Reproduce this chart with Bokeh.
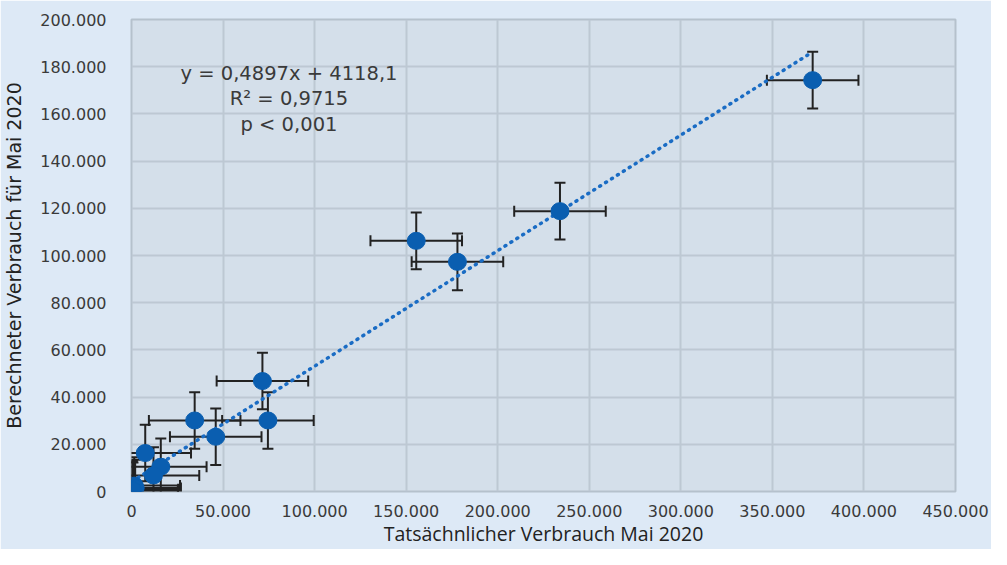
from bokeh.plotting import figure
from bokeh.models import ColumnDataSource, Whisker, TeeHead, Label, CustomJSTickFormatter, FixedTicker, Range1d
from bokeh.embed import file_html
from bokeh.resources import INLINE

# --- data ---
actual = [372000, 234000, 155500, 178000, 71500, 74500, 34500, 46000, 7500, 16000, 12000, 1500, 500, 800, 2000, 300]
calculated = [174300, 118800, 106200, 97300, 46800, 30100, 30100, 23200, 16300, 10500, 6800, 2500, 1000, 300, 1500, 500]
x_error = [25000] * len(actual)
y_error = [12000] * len(actual)
slope = 0.4897
intercept = 4118.1
x_ticks = [0, 50000, 100000, 150000, 200000, 250000, 300000, 350000, 400000, 450000]
y_ticks = [0, 20000, 40000, 60000, 80000, 100000, 120000, 140000, 160000, 180000, 200000]
equation_lines = ["y = 0,4897x + 4118,1", "R\u00b2 = 0,9715", "p < 0,001"]
x_title = "Tats\u00e4chnlicher Verbrauch Mai 2020"
y_title = "Berechneter Verbrauch f\u00fcr Mai 2020"

OUTER = "#dde9f6"
PLOT_BG = "#d4dfea"
GRID = "#bdc8d3"
TEXT = "#3a3a3a"
MARKER = "#0a5eb0"
TREND = "#1a6cc4"
FONT = "DejaVu Sans"

p = figure(width=991, height=549, output_backend="svg", toolbar_location=None,
           x_range=Range1d(0, 450000), y_range=Range1d(0, 200000),
           min_border_left=128, min_border_right=36, min_border_top=19, min_border_bottom=50)
p.background_fill_color = PLOT_BG
p.border_fill_color = OUTER
p.outline_line_color = "#b5c1cc"
p.outline_line_width = 2

fmt = CustomJSTickFormatter(code="if (tick == 0) { return '0'; } return (tick/1000).toFixed(0) + '.000';")
for ax, ticks in ((p.xaxis, x_ticks), (p.yaxis, y_ticks)):
    ax.ticker = FixedTicker(ticks=ticks)
    ax.formatter = fmt
    ax.axis_line_color = None
    ax.major_tick_line_color = None
    ax.minor_tick_line_color = None
    ax.major_label_text_font = FONT
    ax.major_label_text_font_size = "16px"
    ax.major_label_text_color = TEXT
    ax.axis_label_text_font_style = "normal"
    ax.axis_label_text_color = "#222222"
p.yaxis.major_label_standoff = 19
p.xaxis.major_label_standoff = 7
p.xaxis.axis_label = x_title
p.xaxis.axis_label_text_font = "Open Sans"
p.xaxis.axis_label_text_font_size = "19.5px"
p.xaxis.axis_label_standoff = 0
p.yaxis.axis_label = y_title
p.yaxis.axis_label_text_font = FONT
p.yaxis.axis_label_text_font_size = "19px"
p.yaxis.axis_label_standoff = 12

p.grid.grid_line_color = GRID
p.grid.grid_line_width = 2

# trendline over the range of the data
xmin, xmax = min(actual), max(actual)
p.line([xmin, xmax], [slope * xmin + intercept, slope * xmax + intercept],
       line_color=TREND, line_width=3.5, line_dash="1 6", line_cap="round")

src = ColumnDataSource(dict(
    x=actual, y=calculated,
    xl=[a - e for a, e in zip(actual, x_error)], xu=[a + e for a, e in zip(actual, x_error)],
    yl=[c - e for c, e in zip(calculated, y_error)], yu=[c + e for c, e in zip(calculated, y_error)],
))
for dim, base, lo, hi in (("width", "y", "xl", "xu"), ("height", "x", "yl", "yu")):
    w = Whisker(source=src, base=base, lower=lo, upper=hi, dimension=dim, level="underlay",
                line_color="#222222", line_width=2,
                lower_head=TeeHead(size=11, line_color="#222222", line_width=2),
                upper_head=TeeHead(size=11, line_color="#222222", line_width=2))
    p.add_layout(w)

p.ellipse(x="x", y="y", width=18, height=17, width_units="screen", height_units="screen",
          source=src, fill_color=MARKER, line_color=MARKER)

label_y = [177200, 166400, 155400]
for txt, ly in zip(equation_lines, label_y):
    p.add_layout(Label(x=86000, y=ly, text=txt, text_align="center", text_baseline="middle",
                       text_font=FONT, text_font_size="19.5px", text_color=TEXT))

open("out.html", "w").write(file_html(p, INLINE))
